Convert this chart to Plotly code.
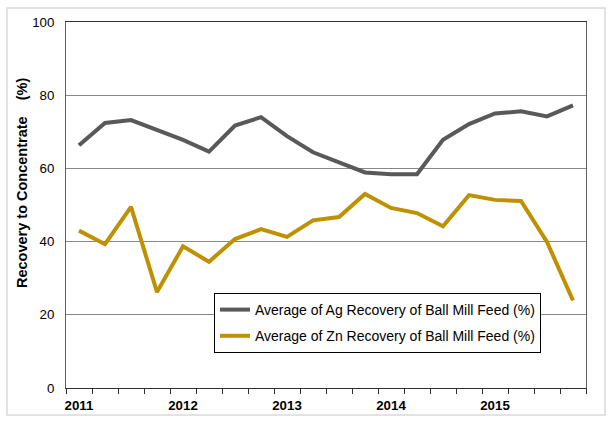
import plotly.graph_objects as go

quarters = list(range(20))
quarter_edges = [q - 0.5 for q in range(21)]
year_ticks = [0, 4, 8, 12, 16]
year_labels = ["2011", "2012", "2013", "2014", "2015"]

ag_recovery = [66.3, 72.4, 73.2, 70.4, 67.8, 64.6, 71.7, 74.0, 68.8, 64.4,
               61.7, 58.9, 58.4, 58.4, 67.8, 72.1, 75.0, 75.6, 74.2, 77.2]
zn_recovery = [43.0, 39.3, 49.5, 26.2, 38.7, 34.5, 40.7, 43.4, 41.3, 45.8,
               46.7, 53.0, 49.2, 47.8, 44.2, 52.7, 51.4, 51.1, 39.9, 23.9]

ag_name = "Average of Ag Recovery of Ball Mill Feed (%)"
zn_name = "Average of Zn Recovery of Ball Mill Feed (%)"

fig = go.Figure()
fig.add_trace(go.Scatter(x=quarters, y=ag_recovery, mode="lines", name=ag_name,
                         legendgroup="ag",
                         line=dict(color="#595959", width=4)))
fig.add_trace(go.Scatter(x=quarters, y=zn_recovery, mode="lines", name=zn_name,
                         legendgroup="zn", xaxis="x2",
                         line=dict(color="#BF9000", width=4)))

W, H = 615, 424
L, R, T, B = 66, 29, 22, 36
pw, ph = W - L - R, H - T - B

def px_x(p):
    return (p - L) / pw

def px_y(p):
    return (H - B - p) / ph

fig.add_shape(type="rect", xref="paper", yref="paper",
              x0=px_x(7), x1=px_x(605), y0=px_y(415), y1=px_y(8),
              line=dict(color="#d9d9d9", width=1.5), layer="below")

FONT = "Liberation Sans, Arial, sans-serif"
NB = "\u00a0"
fig.update_layout(
    width=W, height=H,
    margin=dict(l=L, r=R, t=T, b=B, autoexpand=False),
    paper_bgcolor="white", plot_bgcolor="white",
    font=dict(family=FONT, color="black"),
    showlegend=True,
    legend=dict(x=px_x(214), y=px_y(293), xanchor="left", yanchor="top",
                bgcolor="white", bordercolor="black", borderwidth=1,
                font=dict(size=14, color="black"), itemwidth=30,
                tracegroupgap=5),
    xaxis=dict(range=[-0.5, 19.5], tickmode="array", tickvals=quarter_edges,
               showticklabels=False,
               ticks="outside", ticklen=5, tickcolor="#303030", tickwidth=1,
               showgrid=False, zeroline=False, automargin=False,
               showline=True, linecolor="#303030", linewidth=1, mirror=True),
    xaxis2=dict(range=[-0.5, 19.5], overlaying="x", anchor="y", side="bottom",
                tickmode="array", tickvals=year_ticks,
                ticktext=["<b>" + y + "</b>" for y in year_labels],
                ticks="outside", ticklen=5, tickcolor="rgba(0,0,0,0)",
                showgrid=False, zeroline=False, showline=False, automargin=False,
                tickfont=dict(size=13.3, color="black")),
    yaxis=dict(range=[0, 100], tickvals=[0, 20, 40, 60, 80, 100], ticks="",
               automargin=False, ticklabelstandoff=8,
               showgrid=True, gridcolor="#888888", gridwidth=1, zeroline=False,
               showline=True, linecolor="#606060", linewidth=1, mirror=True,
               tickfont=dict(size=13.3, color="black"),
               tickprefix="<b>", ticksuffix="</b>",
               title=dict(text="<b>" + NB * 11 + "Recovery to Concentrate" + NB * 4 + "(%)</b>",
                          font=dict(size=14.5, color="black"), standoff=1)),
)

fig.write_html("out.html", config={"displayModeBar": False},
               post_script="document.body.style.margin='0';")
